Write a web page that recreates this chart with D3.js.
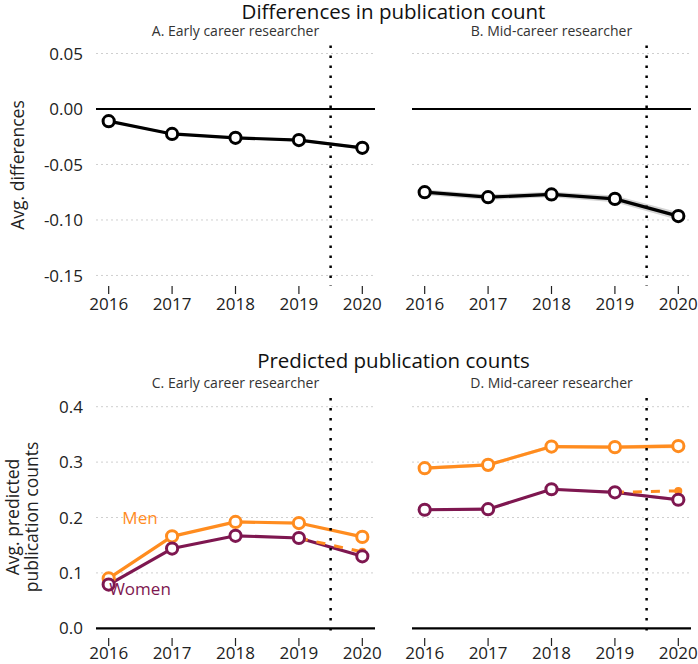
<!DOCTYPE html>
<html>
<head>
<meta charset="utf-8">
<script src="https://cdn.jsdelivr.net/npm/d3@7"></script>
<style>
  html, body { margin: 0; padding: 0; background: #fff; }
  svg { display: block; font-family: "Open Sans", "DejaVu Sans", sans-serif; }
</style>
</head>
<body>
<svg id="chart" width="698" height="664"></svg>
<script>
// ---------------- DATA ----------------
const years = [2016, 2017, 2018, 2019, 2020];
const xTickLabels = ["2016", "2017", "2018", "2019", "2020"];

// Top: differences in publication count
const diffEarly = [-0.011, -0.0225, -0.026, -0.028, -0.035];
const diffEarlyCI = [0.001, 0.001, 0.001, 0.0012, 0.0015];
const diffMid = [-0.075, -0.0795, -0.077, -0.081, -0.0965];
const diffMidCI = [0.0025, 0.0025, 0.0025, 0.003, 0.0035];
const diffTicks = [0.05, 0.00, -0.05, -0.10, -0.15];
const diffTickLabels = ["0.05", "0.00", "-0.05", "-0.10", "-0.15"];

// Bottom: predicted publication counts
const menEarly = [0.090, 0.166, 0.192, 0.190, 0.165];
const womenEarly = [0.079, 0.144, 0.167, 0.163, 0.130];
const counterEarly = 0.138; // counterfactual 2020 (women, dashed)
const menMid = [0.289, 0.295, 0.328, 0.327, 0.329];
const womenMid = [0.214, 0.215, 0.251, 0.2455, 0.232];
const counterMid = 0.248;
const menMidCI = [0.003, 0.003, 0.003, 0.003, 0.004];
const womenMidCI = [0.002, 0.002, 0.002, 0.002, 0.003];
const predTicks = [0.4, 0.3, 0.2, 0.1, 0.0];
const predTickLabels = ["0.4", "0.3", "0.2", "0.1", "0.0"];

const titleTop = "Differences in publication count";
const titleBottom = "Predicted publication counts";
const facetTitles = ["A. Early career researcher", "B. Mid-career researcher",
                     "C. Early career researcher", "D. Mid-career researcher"];
const breakYear = 2019.5;

// ---------------- STYLE ----------------
const ORANGE = "#FF8C1F";
const PURPLE = "#7E1750";
const svg = d3.select("#chart");

const xLeft = d3.scaleLinear().domain([2015.8, 2020.2]).range([96, 375]);
const xRight = d3.scaleLinear().domain([2015.8, 2020.2]).range([412, 691]);
const yTop = d3.scaleLinear().domain([-0.1595, 0.0572]).range([286, 45.5]);
const yBot = d3.scaleLinear().domain([-0.0175, 0.4157]).range([638, 398]);

// titles (centred over the panel area)
const cx = (96 + 691) / 2;
svg.append("text").attr("x", cx).attr("y", 18.5).attr("text-anchor", "middle")
  .attr("font-size", 20.5).attr("fill", "#111").text(titleTop);
svg.append("text").attr("x", cx).attr("y", 368.3).attr("text-anchor", "middle")
  .attr("font-size", 20.5).attr("fill", "#111").text(titleBottom);

// y axis titles
svg.append("text").attr("transform", "translate(23.5,165) rotate(-90)")
  .attr("text-anchor", "middle").attr("font-size", 17.5).attr("fill", "#222").text("Avg. differences");
const yt2 = svg.append("text").attr("transform", "translate(18.5,517) rotate(-90)")
  .attr("text-anchor", "middle").attr("font-size", 17.5).attr("fill", "#222");
yt2.append("tspan").attr("x", 0).attr("dy", 0).text("Avg. predicted");
yt2.append("tspan").attr("x", 0).attr("dy", 19.5).text("publication counts");

function panel(x, y, ticks, tickLabels, showY, facet, zeroVal) {
  const g = svg.append("g");
  const [x0, x1] = x.range();
  const [yb, yt] = y.range();
  // facet title
  g.append("text").attr("x", (x0 + x1) / 2).attr("y", yt - 10).attr("text-anchor", "middle")
    .attr("font-size", 14).attr("fill", "#333").text(facet);
  // gridlines
  g.selectAll(".grid").data(ticks.filter(t => t !== zeroVal)).join("line")
    .attr("x1", x0).attr("x2", x1).attr("y1", d => y(d)).attr("y2", d => y(d))
    .attr("stroke", "#cfcfcf").attr("stroke-width", 1).attr("stroke-dasharray", "2,3");
  // zero line
  g.append("line").attr("x1", x0).attr("x2", x1).attr("y1", y(zeroVal)).attr("y2", y(zeroVal))
    .attr("stroke", "#000").attr("stroke-width", 2.2);
  // y tick labels
  if (showY) {
    g.selectAll(".yl").data(ticks).join("text")
      .attr("x", 83).attr("y", d => y(d)).attr("dy", "0.36em").attr("text-anchor", "end")
      .attr("font-size", 17).attr("fill", "#222").text((d, i) => tickLabels[i]);
  }
  // x axis ticks & labels
  g.selectAll(".xt").data(years).join("line")
    .attr("x1", d => x(d)).attr("x2", d => x(d)).attr("y1", yb).attr("y2", yb + 8)
    .attr("stroke", "#222").attr("stroke-width", 1.2);
  g.selectAll(".xl").data(years).join("text")
    .attr("x", d => x(d)).attr("y", Math.min(yb + 23.5, 659)).attr("text-anchor", "middle")
    .attr("font-size", 17).attr("fill", "#222").text((d, i) => xTickLabels[i]);
  return g;
}

function vline(g, x, y) {
  const [yb, yt] = y.range();
  g.append("line").attr("x1", x(breakYear)).attr("x2", x(breakYear)).attr("y1", yt).attr("y2", yb)
    .attr("stroke", "#000").attr("stroke-width", 2.5).attr("stroke-dasharray", "2.5,7.5");
}

function series(g, x, y, vals, ci, color, ribbonColor) {
  if (ci) {
    const area = d3.area().x((d, i) => x(years[i])).y0((d, i) => y(d - ci[i])).y1((d, i) => y(d + ci[i]));
    g.append("path").attr("d", area(vals)).attr("fill", ribbonColor).attr("stroke", "none");
  }
  const line = d3.line().x((d, i) => x(years[i])).y(d => y(d));
  g.append("path").attr("d", line(vals)).attr("fill", "none").attr("stroke", color)
    .attr("stroke-width", 3.2).attr("stroke-linejoin", "round");
}
function points(g, x, y, vals, color) {
  g.selectAll(null).data(vals).join("circle")
    .attr("cx", (d, i) => x(years[i])).attr("cy", d => y(d)).attr("r", 5.6)
    .attr("fill", "#fff").attr("stroke", color).attr("stroke-width", 3);
}
function counterfactual(g, x, y, from, to) {
  g.append("line").attr("x1", x(2019)).attr("y1", y(from)).attr("x2", x(2020)).attr("y2", y(to))
    .attr("stroke", ORANGE).attr("stroke-width", 3).attr("stroke-dasharray", "9,9");
  g.append("circle").attr("cx", x(2020)).attr("cy", y(to)).attr("r", 4).attr("fill", ORANGE);
}

// Panel A
const gA = panel(xLeft, yTop, diffTicks, diffTickLabels, true, facetTitles[0], 0);
series(gA, xLeft, yTop, diffEarly, diffEarlyCI, "#000", "#d4d4d4");
vline(gA, xLeft, yTop);
points(gA, xLeft, yTop, diffEarly, "#000");
// Panel B
const gB = panel(xRight, yTop, diffTicks, diffTickLabels, false, facetTitles[1], 0);
series(gB, xRight, yTop, diffMid, diffMidCI, "#000", "#d4d4d4");
vline(gB, xRight, yTop);
points(gB, xRight, yTop, diffMid, "#000");
// Panel C
const gC = panel(xLeft, yBot, predTicks, predTickLabels, true, facetTitles[2], 0);
series(gC, xLeft, yBot, menEarly, null, ORANGE);
series(gC, xLeft, yBot, womenEarly, null, PURPLE);
counterfactual(gC, xLeft, yBot, womenEarly[3], counterEarly);
vline(gC, xLeft, yBot);
points(gC, xLeft, yBot, menEarly, ORANGE);
points(gC, xLeft, yBot, womenEarly, PURPLE);
gC.append("text").attr("x", 140).attr("y", yBot(0.2)).attr("dy", "0.36em").attr("text-anchor", "middle")
  .attr("font-size", 17).attr("fill", ORANGE).text("Men");
gC.append("text").attr("x", 140).attr("y", 589).attr("dy", "0.36em").attr("text-anchor", "middle")
  .attr("font-size", 17).attr("fill", PURPLE).text("Women");
// Panel D
const gD = panel(xRight, yBot, predTicks, predTickLabels, false, facetTitles[3], 0);
series(gD, xRight, yBot, menMid, menMidCI, ORANGE, "#fcd9b8");
series(gD, xRight, yBot, womenMid, womenMidCI, PURPLE, "#e2c3d3");
counterfactual(gD, xRight, yBot, womenMid[3], counterMid);
vline(gD, xRight, yBot);
points(gD, xRight, yBot, menMid, ORANGE);
points(gD, xRight, yBot, womenMid, PURPLE);
</script>
</body>
</html>
